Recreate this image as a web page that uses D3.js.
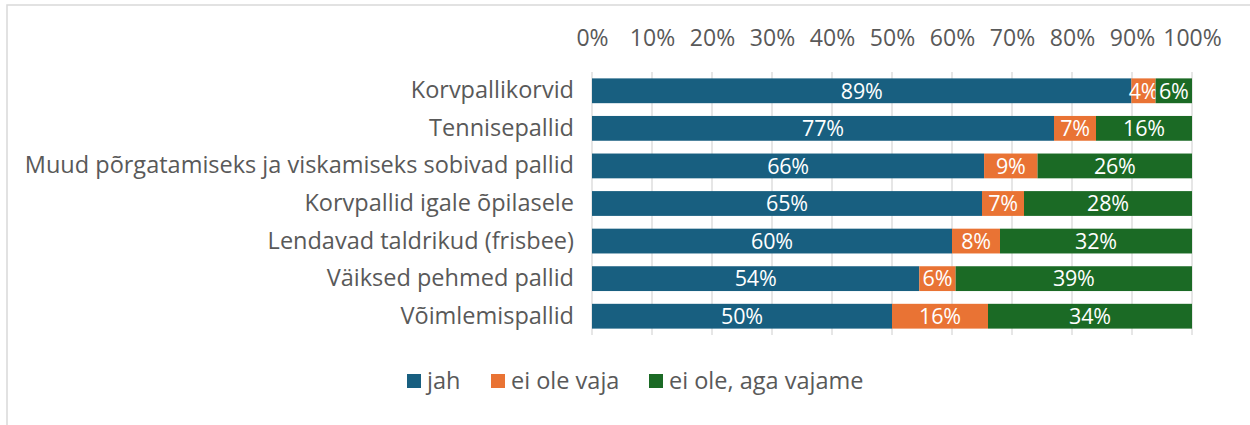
<!DOCTYPE html>
<meta charset='utf-8'>
<style>
  body { margin: 0; background: #fff; }
  svg text { font-family: 'Open Sans', 'Lato', sans-serif; }
</style>
<div id='chart'></div>
<script src='https://d3js.org/d3.v7.min.js'></script>
<script>

  var categories = ['Korvpallikorvid', 'Tennisepallid', 'Muud põrgatamiseks ja viskamiseks sobivad pallid',
    'Korvpallid igale õpilasele', 'Lendavad taldrikud (frisbee)', 'Väiksed pehmed pallid', 'Võimlemispallid'];
  var seriesNames = ['jah', 'ei ole vaja', 'ei ole, aga vajame'];
  var jah = [89, 77, 66, 65, 60, 54, 50];
  var eiOleVaja = [4, 7, 9, 7, 8, 6, 16];
  var eiOleAgaVajame = [6, 16, 26, 28, 32, 39, 34];
  var tickValues = [0, 0.1, 0.2, 0.3, 0.4, 0.5, 0.6, 0.7, 0.8, 0.9, 1];
  var colors = ['#185f80', '#e97334', '#1b6a25'];

  var W = 1250, H = 425;
  var margin = {top: 72, left: 592, right: 58, bottom: 90};
  var width = W - margin.left - margin.right,
      height = H - margin.top - margin.bottom;

  var svg = d3.select('#chart').append('svg')
      .attr('width', W).attr('height', H);

  // chart frame
  svg.append('rect')
    .attr('x', 7).attr('y', 5).attr('width', W).attr('height', H)
    .attr('fill', 'none').attr('stroke', '#d9d9d9').attr('stroke-width', 1.5);

  var g = svg.append('g')
    .attr('transform', 'translate(' + margin.left + ',' + margin.top + ')');

  var rows = categories.map(function (c, i) {
    var vals = [jah[i], eiOleVaja[i], eiOleAgaVajame[i]];
    var tot = d3.sum(vals);
    return {cat: c, vals: vals, share: vals.map(function (v) { return v / tot; })};
  });

  var x = d3.scaleLinear().domain([0, 1]).range([0, width]);
  var y = d3.scaleBand().domain(categories).range([0, height]).paddingInner(0.34).paddingOuter(0.17);

  // gridlines
  g.append('g').selectAll('line')
    .data(tickValues).enter().append('line')
      .attr('x1', function (d) { return x(d); })
      .attr('x2', function (d) { return x(d); })
      .attr('y1', 0).attr('y2', height)
      .attr('stroke', '#d9d9d9').attr('stroke-width', 1.3);

  // top axis labels
  var xAxis = g.append('g')
    .attr('transform', 'translate(0,-23)')
    .call(d3.axisTop(x).tickValues(tickValues).tickFormat(d3.format('.0%')).tickSize(0));
  xAxis.select('.domain').remove();
  xAxis.selectAll('text').attr('font-size', 23).attr('fill', '#595959');

  // category labels
  var yAxis = g.append('g')
    .attr('transform', 'translate(-15,0)')
    .call(d3.axisLeft(y).tickSize(0));
  yAxis.select('.domain').remove();
  yAxis.selectAll('text').attr('font-size', 23.5).attr('fill', '#595959');

  // bars
  rows.forEach(function (r) {
    var acc = 0;
    r.share.forEach(function (s, k) {
      var x0 = acc;
      acc += s;
      g.append('rect')
        .attr('x', x(x0)).attr('width', x(acc) - x(x0))
        .attr('y', y(r.cat)).attr('height', y.bandwidth())
        .attr('fill', colors[k]);
      g.append('text')
        .attr('x', (x(x0) + x(acc)) / 2)
        .attr('y', y(r.cat) + y.bandwidth() / 2)
        .attr('dy', '0.36em')
        .attr('text-anchor', 'middle')
        .attr('font-size', 21.5)
        .attr('fill', '#fff')
        .style('letter-spacing', '-0.2px')
        .text(r.vals[k] + '%');
    });
  });

  // legend
  var legendX = [407, 491, 649];
  var legend = svg.append('g');
  seriesNames.forEach(function (n, k) {
    legend.append('rect')
      .attr('x', legendX[k]).attr('y', 374)
      .attr('width', 14).attr('height', 14)
      .attr('fill', colors[k]);
    legend.append('text')
      .attr('x', legendX[k] + 20).attr('y', 381)
      .attr('dy', '0.35em')
      .attr('font-size', 23.5).attr('fill', '#595959')
      .text(n);
  });
</script>
